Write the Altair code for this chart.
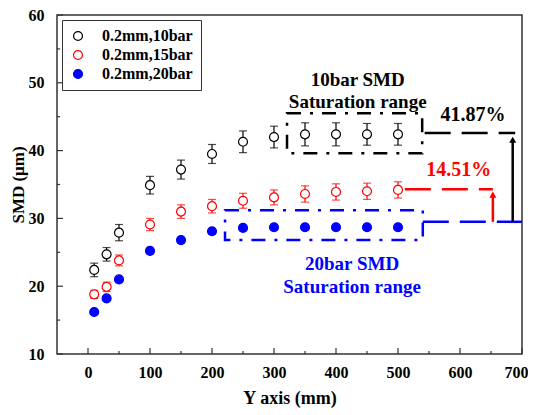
import altair as alt
import pandas as pd

# ---------------- data ----------------
x_pos = [10, 30, 50, 100, 150, 200, 250, 300, 350, 400, 450, 500]
smd_10bar = [22.4, 24.7, 27.9, 34.9, 37.2, 39.5, 41.3, 42.0, 42.4, 42.4, 42.4, 42.4]
err_10bar = [1.0, 1.0, 1.2, 1.3, 1.4, 1.4, 1.6, 1.6, 1.7, 1.7, 1.6, 1.6]
smd_15bar = [18.8, 19.9, 23.8, 29.1, 31.0, 31.8, 32.6, 33.1, 33.6, 33.9, 34.0, 34.2]
err_15bar = [0.6, 0.7, 0.8, 0.9, 1.0, 1.0, 1.1, 1.1, 1.2, 1.2, 1.2, 1.2]
smd_20bar = [16.2, 18.2, 21.0, 25.2, 26.8, 28.1, 28.6, 28.7, 28.7, 28.7, 28.7, 28.7]
err_20bar = [0.3, 0.3, 0.3, 0.4, 0.4, 0.4, 0.4, 0.4, 0.4, 0.4, 0.4, 0.4]

series_names = ["0.2mm,10bar", "0.2mm,15bar", "0.2mm,20bar"]
series_colors = ["#000000", "#ff0000", "#0000ff"]
filled_series = ["0.2mm,20bar"]
filled_colors = ["#0000ff"]

x_major = [0, 100, 200, 300, 400, 500, 600, 700]
x_minor = [50, 150, 250, 350, 450, 550, 650]
y_major = [10, 20, 30, 40, 50, 60]
y_minor = [15, 25, 35, 45, 55]

pct_labels = ["41.87%", "14.51%"]

# ---------------- build table ----------------
rows = []
for name, vals, errs in zip(series_names, [smd_10bar, smd_15bar, smd_20bar],
                            [err_10bar, err_15bar, err_20bar]):
    for x, v, e in zip(x_pos, vals, errs):
        rows.append({"series": name, "series_fill": name, "x": x, "smd": v,
                     "lo": v - e, "hi": v + e})
df = pd.DataFrame(rows)

FONT = "Liberation Serif"
W, H = 465, 339
xs = alt.Scale(domain=[-50, 700], nice=False, zero=False)
ys = alt.Scale(domain=[10, 60], nice=False, zero=False)
cscale = alt.Scale(domain=series_names, range=series_colors)
fscale = alt.Scale(domain=filled_series, range=filled_colors)

x_axis = alt.Axis(title="Y axis (mm)", values=x_major, ticks=False, tickSize=0, grid=False,
                  domain=False, labelFont=FONT, labelFontSize=16, labelFontWeight="bold",
                  labelColor="#000", labelPadding=10, titleFont=FONT, titleFontSize=18,
                  titleFontWeight="bold", titleColor="#000", titlePadding=9,
                  labelFlush=True, labelFlushOffset=6)
y_axis = alt.Axis(title="SMD (μm)", values=y_major, ticks=False, tickSize=0, grid=False,
                  domain=False, labelFont=FONT, labelFontSize=16, labelFontWeight="bold",
                  labelColor="#000", labelPadding=13, titleFont=FONT, titleFontSize=17,
                  titleFontWeight="bold", titleColor="#000", titlePadding=1, labelFlush=False)

X = lambda f: alt.X(f, scale=xs, axis=x_axis)
Y = lambda f: alt.Y(f, scale=ys, axis=y_axis)

leg_common = dict(title=None, orient="none", legendX=5, padding=8,
                  labelFont=FONT, labelFontSize=16, labelFontWeight="bold",
                  labelOffset=16, symbolSize=80, rowPadding=3, symbolType="circle",
                  symbolStrokeWidth=1.2)
legend_main = alt.Legend(legendY=5, strokeColor="#333", fillColor="white",
                         labelColor="#000", **leg_common)
legend_fill = alt.Legend(legendY=43, strokeColor="transparent", fillColor="transparent",
                         labelOpacity=0, **leg_common)

base = alt.Chart(df)

# error bars: one set of layers per series, constant colour (no legend involvement)
err_layers = []
for name, col in zip(series_names, series_colors):
    sub = base.transform_filter(alt.FieldEqualPredicate(field="series", equal=name))
    err_layers.append(sub.mark_rule(strokeWidth=1.2, color=col).encode(
        x=X("x:Q"), y=Y("lo:Q"), y2="hi:Q"))
    err_layers.append(sub.mark_tick(orient="horizontal", size=8, thickness=1.2, color=col).encode(
        x=X("x:Q"), y=Y("lo:Q")))
    err_layers.append(sub.mark_tick(orient="horizontal", size=8, thickness=1.2, color=col).encode(
        x=X("x:Q"), y=Y("hi:Q")))

mask = base.mark_point(shape="circle", size=80, filled=True, color="white", opacity=1).encode(
    x=X("x:Q"), y=Y("smd:Q"))

points = base.mark_point(shape="circle", size=80, strokeWidth=1.2, opacity=1, filled=False).encode(
    x=X("x:Q"), y=Y("smd:Q"),
    color=alt.Color("series:N", scale=cscale, legend=legend_main))

points_filled = base.transform_filter(
    alt.FieldOneOfPredicate(field="series", oneOf=filled_series)
).mark_point(shape="circle", size=80, strokeWidth=1.2, opacity=1, filled=True).encode(
    x=X("x:Q"), y=Y("smd:Q"),
    fill=alt.Fill("series_fill:N", scale=fscale, legend=legend_fill))

# ---------------- annotations ----------------
DASHDOT = [14, 9, 3, 9]
DASH = [26, 11]

boxes_df = pd.DataFrame({"x": [321, 221], "x2": [539, 540], "y": [45.5, 31.2], "y2": [39.6, 26.8],
                         "c": ["#000000", "#0000ff"]})
boxes = alt.Chart(boxes_df).mark_rect(fillOpacity=0, strokeWidth=2.5, strokeDash=DASHDOT).encode(
    x=X("x:Q"), x2="x2:Q", y=Y("y:Q"), y2="y2:Q", stroke=alt.Stroke("c:N", scale=None))

hl_df = pd.DataFrame({"x": [543, 511, 540], "x2": [689, 653, 700], "y": [42.6, 34.3, 29.5],
                      "c": ["#000000", "#ff0000", "#0000ff"]})
hlines = alt.Chart(hl_df).mark_rule(strokeWidth=2.5, strokeDash=DASH).encode(
    x=X("x:Q"), x2="x2:Q", y=Y("y:Q"), color=alt.Color("c:N", scale=None))

ar_df = pd.DataFrame({"x": [685, 653], "y": [29.5, 29.5], "y2": [41.6, 33.5],
                      "c": ["#000000", "#ff0000"]})
arrows = alt.Chart(ar_df).mark_rule(strokeWidth=2.5).encode(
    x=X("x:Q"), y=Y("y:Q"), y2="y2:Q", color=alt.Color("c:N", scale=None))
heads = alt.Chart(ar_df).mark_point(shape="triangle-up", filled=True, size=50, opacity=1).encode(
    x=X("x:Q"), y=Y("y2:Q"), color=alt.Color("c:N", scale=None))

txt_df = pd.DataFrame({
    "x": [435, 435, 426, 426],
    "y": [50.4, 47.2, 23.3, 19.9],
    "t": ["10bar SMD", "Saturation range", "20bar SMD", "Saturation range"],
    "c": ["#000000", "#000000", "#0000ff", "#0000ff"]})
texts = alt.Chart(txt_df).mark_text(font=FONT, fontSize=19, fontWeight="bold").encode(
    x=X("x:Q"), y=Y("y:Q"), text="t:N", color=alt.Color("c:N", scale=None))

pct_df = pd.DataFrame({"x": [621, 598], "y": [45.25, 37.1], "t": pct_labels,
                       "c": ["#000000", "#ff0000"]})
pcts = alt.Chart(pct_df).mark_text(font=FONT, fontSize=20, fontWeight="bold").encode(
    x=X("x:Q"), y=Y("y:Q"), text="t:N", color=alt.Color("c:N", scale=None))

# ---------------- inward axis ticks ----------------
xt_major = alt.Chart(pd.DataFrame({"v": x_major})).mark_rule(color="#333", strokeWidth=1.2).encode(
    x=X("v:Q"), y=alt.value(H), y2=alt.value(H - 6))
xt_minor = alt.Chart(pd.DataFrame({"v": x_minor})).mark_rule(color="#333", strokeWidth=1.2).encode(
    x=X("v:Q"), y=alt.value(H), y2=alt.value(H - 3))
yt_major = alt.Chart(pd.DataFrame({"v": y_major})).mark_rule(color="#333", strokeWidth=1.2).encode(
    y=Y("v:Q"), x=alt.value(0), x2=alt.value(6))
yt_minor = alt.Chart(pd.DataFrame({"v": y_minor})).mark_rule(color="#333", strokeWidth=1.2).encode(
    y=Y("v:Q"), x=alt.value(0), x2=alt.value(3))

chart = alt.layer(
    xt_major, xt_minor, yt_major, yt_minor,
    boxes, hlines, arrows, heads, texts, pcts,
    *err_layers, mask, points, points_filled
).properties(
    width=W, height=H,
    autosize=alt.AutoSizeParams(type="none"),
    padding={"left": 49, "top": 7, "right": 6, "bottom": 60},
    background="white"
).configure_view(stroke="#333", strokeWidth=1.5
).configure_axis(labelFont=FONT, titleFont=FONT
).configure_legend(labelFont=FONT)

chart.save("out.html", embed_options={"renderer": "svg", "actions": False})
